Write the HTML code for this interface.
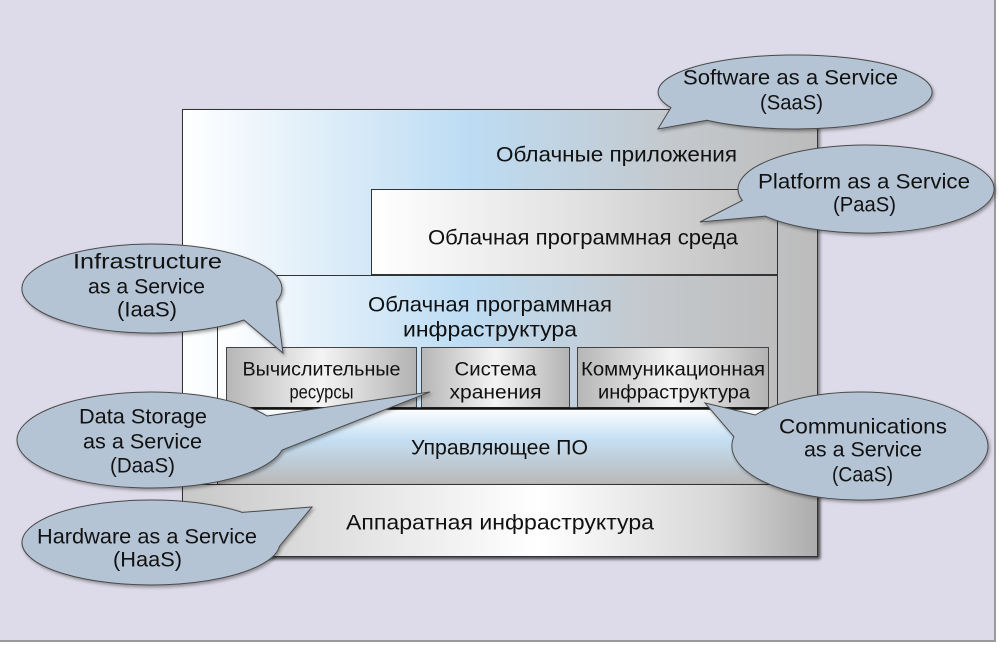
<!DOCTYPE html>
<html><head><meta charset="utf-8"><style>
html,body{margin:0;padding:0;background:#fff;}
svg{display:block;}
text{font-family:"Liberation Sans","DejaVu Sans",sans-serif;fill:#111;}
</style></head><body>
<svg width="1000" height="649" viewBox="0 0 1000 649" xmlns="http://www.w3.org/2000/svg">
<defs>
<linearGradient id="gOuter" x1="182" y1="0" x2="818" y2="0" gradientUnits="userSpaceOnUse">
<stop offset="0" stop-color="#ffffff"/><stop offset="0.45" stop-color="#bddcf3"/><stop offset="0.78" stop-color="#c4c8cc"/><stop offset="1" stop-color="#bcbcbc"/></linearGradient>
<linearGradient id="gEnv" x1="371" y1="0" x2="777" y2="0" gradientUnits="userSpaceOnUse">
<stop offset="0" stop-color="#ffffff"/><stop offset="0.5" stop-color="#e2e2e2"/><stop offset="1" stop-color="#bdbdbd"/></linearGradient>
<linearGradient id="gInfra" x1="217" y1="0" x2="777" y2="0" gradientUnits="userSpaceOnUse">
<stop offset="0" stop-color="#ffffff"/><stop offset="0.44" stop-color="#bddcf3"/><stop offset="0.78" stop-color="#c4c8cc"/><stop offset="1" stop-color="#bdbdbd"/></linearGradient>
<linearGradient id="gBand" x1="0" y1="408" x2="0" y2="484" gradientUnits="userSpaceOnUse">
<stop offset="0" stop-color="#ffffff"/><stop offset="0.4" stop-color="#c6e0f4"/><stop offset="1" stop-color="#b8b8b8"/></linearGradient>
<linearGradient id="gHw" x1="182" y1="0" x2="818" y2="0" gradientUnits="userSpaceOnUse">
<stop offset="0" stop-color="#c8c8c8"/><stop offset="0.2" stop-color="#dcdcdc"/><stop offset="0.56" stop-color="#ffffff"/><stop offset="0.85" stop-color="#d6d6d6"/><stop offset="1" stop-color="#acacac"/></linearGradient>
<linearGradient id="gSub" x1="0" y1="0" x2="1" y2="0">
<stop offset="0" stop-color="#b6b6b6"/><stop offset="0.5" stop-color="#f4f4f4"/><stop offset="1" stop-color="#b2b2b2"/></linearGradient>
<filter id="sh" x="-10%" y="-10%" width="130%" height="130%">
<feDropShadow dx="2" dy="2" stdDeviation="1.5" flood-color="#000" flood-opacity="0.45"/></filter>
<filter id="sh2" x="-10%" y="-10%" width="130%" height="130%">
<feDropShadow dx="1.5" dy="2" stdDeviation="1.5" flood-color="#000" flood-opacity="0.35"/></filter>
</defs>

<!-- frame -->
<rect x="0" y="0" width="1000" height="649" fill="#ffffff"/>
<rect x="0" y="0" width="996" height="642" fill="#dddbe9"/>
<line x1="995" y1="0" x2="995" y2="642" stroke="#9a9a9a" stroke-width="2"/>
<line x1="0" y1="641" x2="996" y2="641" stroke="#9a9a9a" stroke-width="2"/>

<!-- outer box -->
<rect x="182.5" y="109.5" width="635" height="447" fill="url(#gOuter)" stroke="#333" stroke-width="1" filter="url(#sh)"/>
<text x="616.5" y="161.5" font-size="21" text-anchor="middle" textLength="241" lengthAdjust="spacingAndGlyphs">Облачные приложения</text>

<!-- cloud software environment -->
<rect x="371.5" y="189.5" width="406" height="85" fill="url(#gEnv)" stroke="#333" stroke-width="1"/>
<text x="583" y="244.5" font-size="21" text-anchor="middle" textLength="310" lengthAdjust="spacingAndGlyphs">Облачная программная среда</text>

<!-- infrastructure box -->
<rect x="217.5" y="275.5" width="560" height="208" fill="url(#gInfra)" stroke="#333" stroke-width="1"/>
<text x="490" y="311.5" font-size="21" text-anchor="middle" textLength="244" lengthAdjust="spacingAndGlyphs">Облачная программная</text>
<text x="490" y="336.5" font-size="21" text-anchor="middle" textLength="174" lengthAdjust="spacingAndGlyphs">инфраструктура</text>

<!-- management band -->
<rect x="218" y="408" width="559" height="76" fill="url(#gBand)"/>
<line x1="217.5" y1="408" x2="217.5" y2="484" stroke="#333" stroke-width="1"/>
<line x1="777.5" y1="408" x2="777.5" y2="484" stroke="#555" stroke-width="1"/>
<text x="499.5" y="454.5" font-size="21" text-anchor="middle" textLength="177" lengthAdjust="spacingAndGlyphs">Управляющее ПО</text>

<!-- sub boxes -->
<rect x="226.5" y="347.5" width="190" height="60" fill="url(#gSub)" stroke="#444" stroke-width="1"/>
<rect x="421.5" y="347.5" width="148" height="60" fill="url(#gSub)" stroke="#444" stroke-width="1"/>
<rect x="577.5" y="347.5" width="191" height="60" fill="url(#gSub)" stroke="#444" stroke-width="1"/>
<line x1="226" y1="408.5" x2="769" y2="408.5" stroke="#111" stroke-width="2.5"/>
<text x="321.5" y="375.5" font-size="19" text-anchor="middle" textLength="158" lengthAdjust="spacingAndGlyphs">Вычислительные</text>
<text x="321.5" y="398.5" font-size="19" text-anchor="middle" textLength="64" lengthAdjust="spacingAndGlyphs">ресурсы</text>
<text x="495.5" y="375.5" font-size="19" text-anchor="middle" textLength="82" lengthAdjust="spacingAndGlyphs">Система</text>
<text x="495.5" y="398.5" font-size="19" text-anchor="middle" textLength="92" lengthAdjust="spacingAndGlyphs">хранения</text>
<text x="673" y="375.5" font-size="19" text-anchor="middle" textLength="184" lengthAdjust="spacingAndGlyphs">Коммуникационная</text>
<text x="674" y="398.5" font-size="19" text-anchor="middle" textLength="152" lengthAdjust="spacingAndGlyphs">инфраструктура</text>

<!-- hardware box -->
<rect x="182.5" y="484.5" width="635" height="72" fill="url(#gHw)" stroke="#333" stroke-width="1" filter="url(#sh)"/>
<text x="500" y="529.5" font-size="21" text-anchor="middle" textLength="308" lengthAdjust="spacingAndGlyphs">Аппаратная инфраструктура</text>

<!-- callouts -->
<g fill="#b5c4d4" stroke="#4a4a4a" stroke-width="1" filter="url(#sh2)">
<path d="M670.9,107.6 L658,129 L706.9,120.3 A137,37 0 1 0 670.9,107.6 Z"/>
<path d="M742.4,200.4 L700,222 L765.1,216.1 A128,44 0 1 0 742.4,200.4 Z"/>
<path d="M243.9,320 L283,353 L276.3,301.5 A130,44.5 0 1 0 243.9,320 Z"/>
<path d="M267,416 L430,392 L282.1,450 A134,48 0 1 1 267,416 Z"/>
<path d="M242.2,512.4 L312,507 L279.5,546.2 A129,42.5 0 1 1 242.2,512.4 Z"/>
<path d="M733.9,436.6 L705,403 L755.2,415 A128,54 0 1 1 733.9,436.6 Z"/>
</g>

<text x="790.5" y="84.5" font-size="21" text-anchor="middle" textLength="215" lengthAdjust="spacingAndGlyphs">Software as a Service</text>
<text x="791.5" y="109.5" font-size="21" text-anchor="middle" textLength="63" lengthAdjust="spacingAndGlyphs">(SaaS)</text>

<text x="864" y="188.5" font-size="21" text-anchor="middle" textLength="212" lengthAdjust="spacingAndGlyphs">Platform as a Service</text>
<text x="864.5" y="211.5" font-size="21" text-anchor="middle" textLength="63" lengthAdjust="spacingAndGlyphs">(PaaS)</text>

<text x="147.5" y="268.5" font-size="21" text-anchor="middle" textLength="149" lengthAdjust="spacingAndGlyphs">Infrastructure</text>
<text x="146.5" y="293.5" font-size="21" text-anchor="middle" textLength="117" lengthAdjust="spacingAndGlyphs">as a Service</text>
<text x="147" y="316.5" font-size="21" text-anchor="middle" textLength="60" lengthAdjust="spacingAndGlyphs">(IaaS)</text>

<text x="143" y="423.5" font-size="21" text-anchor="middle" textLength="128" lengthAdjust="spacingAndGlyphs">Data Storage</text>
<text x="142.5" y="448.5" font-size="21" text-anchor="middle" textLength="119" lengthAdjust="spacingAndGlyphs">as a Service</text>
<text x="142.5" y="472.5" font-size="21" text-anchor="middle" textLength="65" lengthAdjust="spacingAndGlyphs">(DaaS)</text>

<text x="147" y="543.5" font-size="21" text-anchor="middle" textLength="220" lengthAdjust="spacingAndGlyphs">Hardware as a Service</text>
<text x="147.5" y="566.5" font-size="21" text-anchor="middle" textLength="69" lengthAdjust="spacingAndGlyphs">(HaaS)</text>

<text x="863" y="433.5" font-size="21" text-anchor="middle" textLength="168" lengthAdjust="spacingAndGlyphs">Communications</text>
<text x="863" y="456.5" font-size="21" text-anchor="middle" textLength="118" lengthAdjust="spacingAndGlyphs">as a Service</text>
<text x="862.5" y="481.5" font-size="21" text-anchor="middle" textLength="61" lengthAdjust="spacingAndGlyphs">(CaaS)</text>
</svg>
</body></html>
